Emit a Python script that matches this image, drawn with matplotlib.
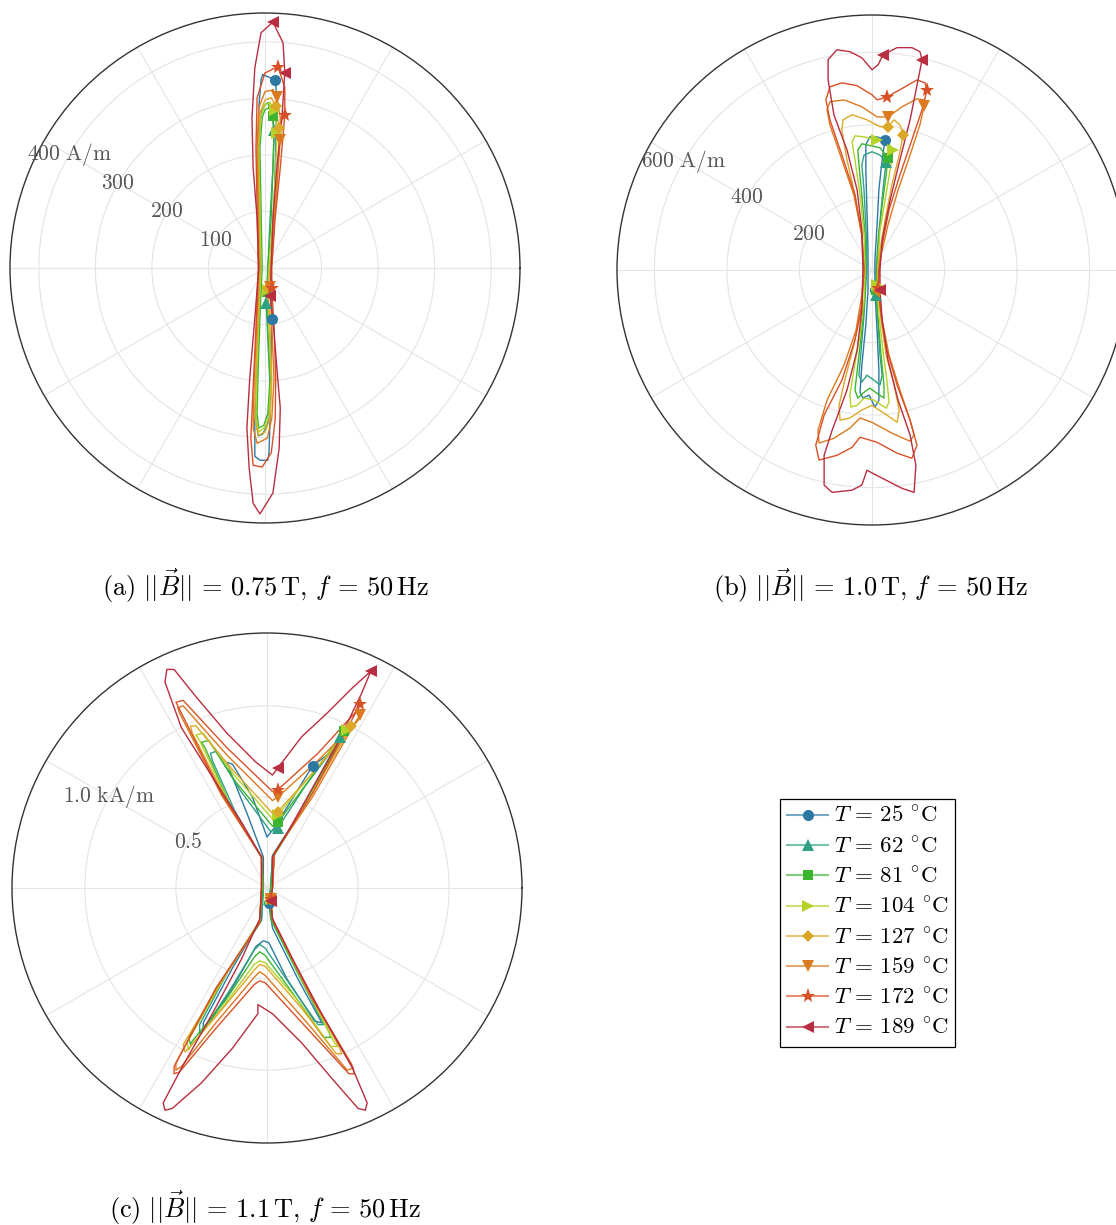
import numpy as np
import matplotlib
matplotlib.use("Agg")
import matplotlib.pyplot as plt
from matplotlib.lines import Line2D
from matplotlib.colors import to_rgb

plt.rcParams["mathtext.fontset"] = "cm"
plt.rcParams["font.family"] = ["DejaVu Serif"]

TEMPS = [25, 62, 81, 104, 127, 159, 172, 189]
COLORS = ["#2c78a3", "#30a082", "#3cb432", "#b4d228",
          "#dca828", "#dc7820", "#d85028", "#b82d40"]
MARKERS = ["o", "^", "s", ">", "D", "v", "*", "<"]

# ---- (a) |B| = 0.75 T : H loci (Hx, Hy) in A/m ----
A_25 = [(-4, 342), (18, 333), (21, 301), (19, 212), (16, 106), (11, 0), (12, -90), (11, -177), (9, -266),
        (7, -327), (5, -340), (-9, -340), (-18, -333), (-18, -266), (-14, -177), (-11, -89), (-9, 0),
        (-12, 80), (-12, 177), (-11, 283), (-7, 333), (-4, 342)]
A_62 = [(5, 292), (12, 274), (16, 244), (14, 177), (9, 89), (5, 0), (2, -62), (5, -124), (9, -212), (5, -274),
        (-4, -294), (-12, -297), (-16, -266), (-14, -177), (-11, -89), (-7, 0), (-9, 106), (-11, 212),
        (-7, 274), (0, 289), (5, 292)]
A_81 = [(7, 283), (14, 269), (16, 230), (14, 177), (11, 89), (5, 0), (4, -42), (5, -106), (9, -195), (5, -257),
        (-2, -278), (-11, -283), (-14, -257), (-12, -177), (-9, -89), (-5, 0), (-7, 106), (-9, 212),
        (-5, 266), (0, 280), (7, 283)]
A_104 = [(9, 292), (18, 280), (21, 239), (19, 177), (14, 89), (7, 0), (5, -39), (7, -106), (11, -195), (7, -262),
         (-2, -283), (-11, -290), (-16, -266), (-14, -177), (-11, -89), (-7, 0), (-9, 106), (-11, 212),
         (-7, 269), (0, 289), (9, 292)]
A_127 = [(11, 301), (19, 287), (25, 248), (23, 177), (16, 89), (9, 0), (5, -35), (9, -106), (12, -195),
         (9, -266), (0, -290), (-12, -296), (-18, -266), (-16, -177), (-12, -89), (-9, 0), (-11, 106),
         (-12, 212), (-9, 274), (0, 297), (11, 301)]
A_159 = [(14, 315), (21, 303), (27, 266), (27, 227), (21, 142), (14, 53), (9, -34), (12, -106), (16, -195),
         (12, -266), (4, -301), (-14, -310), (-21, -283), (-19, -195), (-14, -89), (-11, 0), (-12, 106),
         (-14, 212), (-11, 283), (0, 312), (14, 315)]
A_172 = [(23, 356), (35, 319), (35, 271), (27, 177), (18, 89), (12, 0), (12, -35), (16, -106), (19, -195),
         (18, -269), (11, -327), (-5, -352), (-21, -349), (-25, -301), (-21, -212), (-16, -106), (-12, 0),
         (-14, 106), (-16, 212), (-14, 301), (0, 345), (23, 356)]
A_189 = [(14, 435), (32, 398), (35, 345), (30, 266), (21, 177), (14, 89), (11, 0), (9, -50), (14, -89),
         (21, -177), (27, -248), (25, -319), (14, -398), (-9, -435), (-21, -416), (-28, -354), (-32, -283),
         (-27, -195), (-18, -89), (-11, 0), (-14, 89), (-21, 177), (-23, 266), (-18, 354), (-7, 416), (14, 435)]
A_MARKS = [[1, 6], [2, 6], [1, 6], [1, 2, 6], [1, 2, 6], [1, 3, 6], [0, 2, 6], [0, 2, 7]]

# ---- (b) |B| = 1.0 T : H loci in A/m ----
B_25 = [(36, 359), (28, 304), (19, 221), (14, 124), (8, 28), (8, -55), (14, -166), (19, -276), (19, -359),
        (8, -378), (-8, -345), (-25, -353), (-33, -337), (-28, -262), (-17, -152), (-11, -55), (-11, 55),
        (-14, 166), (-17, 276), (-17, 345), (-6, 367), (14, 367), (36, 359)]
B_62 = [(39, 298), (33, 248), (25, 166), (17, 83), (11, 0), (11, -69), (17, -152), (22, -235), (28, -290),
        (22, -317), (6, -304), (-14, -290), (-28, -309), (-36, -290), (-30, -221), (-22, -124), (-17, -41),
        (-14, 28), (-17, 124), (-22, 221), (-28, 290), (-22, 317), (0, 326), (22, 317), (39, 298)]
B_81 = [(44, 309), (39, 262), (28, 179), (19, 97), (14, 14), (11, -55), (17, -138), (25, -235), (33, -317),
        (33, -353), (17, -342), (-6, -326), (-22, -337), (-39, -353), (-47, -331), (-39, -262), (-28, -166),
        (-19, -69), (-17, 0), (-19, 97), (-28, 207), (-36, 290), (-39, 331), (-28, 348), (0, 342), (22, 337),
        (44, 309)]
B_104 = [(58, 331), (50, 276), (36, 193), (22, 110), (17, 28), (14, -41), (19, -124), (30, -221), (41, -304),
         (47, -364), (39, -381), (6, -359), (-22, -353), (-41, -373), (-58, -378), (-61, -345), (-50, -276),
         (-33, -179), (-22, -83), (-19, 0), (-22, 97), (-33, 207), (-47, 304), (-55, 353), (-47, 370),
         (-22, 367), (14, 359), (36, 364), (58, 331)]
B_127 = [(86, 373), (75, 317), (55, 235), (36, 138), (22, 55), (17, 0), (17, -55), (25, -138), (39, -235),
         (61, -317), (75, -386), (69, -420), (41, -400), (0, -373), (-28, -386), (-61, -408), (-88, -414),
         (-91, -373), (-75, -304), (-50, -207), (-30, -110), (-22, 0), (-28, 97), (-47, 207), (-69, 304),
         (-83, 386), (-80, 414), (-55, 428), (-14, 414), (22, 395), (44, 395), (61, 414), (77, 400), (86, 373)]
B_159 = [(144, 453), (132, 400), (105, 317), (72, 221), (44, 124), (25, 41), (19, -14), (19, -61), (28, -138),
         (47, -235), (77, -331), (105, -414), (116, -455), (105, -472), (55, -450), (0, -420), (-33, -408),
         (-61, -436), (-105, -464), (-146, -477), (-149, -442), (-124, -359), (-77, -262), (-44, -166),
         (-28, -69), (-22, 0), (-28, 97), (-50, 207), (-83, 304), (-116, 400), (-124, 442), (-116, 464),
         (-77, 469), (-28, 450), (14, 422), (44, 422), (83, 450), (124, 472), (144, 469), (144, 453)]
B_172 = [(152, 497), (138, 442), (110, 359), (77, 262), (47, 166), (28, 69), (19, 0), (17, -50), (25, -124),
         (41, -221), (69, -317), (105, -414), (124, -483), (110, -519), (69, -505), (14, -475), (-33, -461),
         (-55, -489), (-97, -511), (-146, -524), (-155, -483), (-132, -400), (-83, -304), (-47, -193),
         (-28, -97), (-22, 0), (-28, 97), (-47, 207), (-83, 317), (-116, 414), (-127, 469), (-116, 505),
         (-83, 516), (-41, 508), (0, 483), (14, 469), (41, 477), (77, 497), (124, 524), (146, 516), (152, 497)]
B_189 = [(138, 580), (127, 524), (105, 414), (77, 304), (50, 193), (28, 83), (22, 0), (22, -55), (28, -138),
         (44, -248), (72, -359), (105, -455), (121, -538), (116, -613), (83, -602), (28, -574), (-14, -552),
         (-28, -593), (-55, -607), (-110, -613), (-132, -593), (-132, -511), (-110, -442), (-69, -331),
         (-41, -221), (-28, -110), (-25, 0), (-28, 110), (-41, 221), (-69, 331), (-105, 428), (-121, 524),
         (-121, 580), (-97, 607), (-61, 602), (-28, 585), (0, 552), (17, 566), (30, 593), (69, 613),
         (110, 613), (132, 602), (138, 580)]
B_MARKS = [[0, 5], [0, 5], [0, 5], [0, 5, 26], [0, 6, 30], [0, 7, 35], [0, 7, 36], [0, 7, 38]]

# ---- (c) |B| = 1.1 T : H loci in kA/m ----
C_25 = [(0.39, 0.79), (0.36, 0.73), (0.17, 0.39), (0.03, 0.17), (0.02, 0.0), (0.01, -0.08), (0.03, -0.22),
        (0.17, -0.50), (0.29, -0.72), (0.30, -0.74), (0.26, -0.73), (0.11, -0.50), (0.01, -0.30),
        (-0.02, -0.29), (-0.06, -0.32), (-0.19, -0.55), (-0.33, -0.76), (-0.35, -0.78), (-0.35, -0.74),
        (-0.19, -0.44), (-0.03, -0.17), (-0.02, 0.0), (-0.02, 0.17), (-0.11, 0.41), (-0.21, 0.66),
        (-0.22, 0.69), (-0.19, 0.68), (-0.08, 0.50), (0.0, 0.28), (0.04, 0.33), (0.25, 0.67), (0.37, 0.76),
        (0.39, 0.79)]
C_62 = [(0.40, 0.83), (0.37, 0.77), (0.19, 0.43), (0.03, 0.18), (0.02, 0.0), (0.01, -0.06), (0.02, -0.17),
        (0.18, -0.48), (0.30, -0.73), (0.31, -0.75), (0.28, -0.75), (0.14, -0.55), (-0.01, -0.33),
        (-0.04, -0.31), (-0.07, -0.34), (-0.21, -0.57), (-0.35, -0.78), (-0.37, -0.80), (-0.37, -0.75),
        (-0.21, -0.45), (-0.03, -0.18), (-0.02, 0.0), (-0.03, 0.17), (-0.18, 0.43), (-0.30, 0.70),
        (-0.31, 0.74), (-0.28, 0.75), (-0.15, 0.54), (0.02, 0.31), (0.06, 0.33), (0.21, 0.56), (0.39, 0.80),
        (0.40, 0.83)]
C_81 = [(0.42, 0.86), (0.39, 0.80), (0.20, 0.44), (0.04, 0.18), (0.02, 0.0), (0.02, -0.06), (0.02, -0.17),
        (0.19, -0.51), (0.34, -0.79), (0.35, -0.82), (0.31, -0.82), (0.15, -0.59), (-0.01, -0.37),
        (-0.04, -0.35), (-0.07, -0.38), (-0.23, -0.62), (-0.41, -0.84), (-0.42, -0.86), (-0.43, -0.82),
        (-0.23, -0.48), (-0.04, -0.18), (-0.02, 0.0), (-0.03, 0.17), (-0.20, 0.45), (-0.34, 0.77),
        (-0.36, 0.80), (-0.32, 0.81), (-0.17, 0.58), (0.03, 0.34), (0.06, 0.36), (0.23, 0.59), (0.40, 0.83),
        (0.42, 0.86)]
C_104 = [(0.44, 0.87), (0.41, 0.81), (0.21, 0.46), (0.04, 0.18), (0.03, 0.0), (0.02, -0.06), (0.03, -0.17),
         (0.21, -0.54), (0.37, -0.85), (0.39, -0.87), (0.35, -0.87), (0.18, -0.63), (-0.01, -0.41),
         (-0.04, -0.40), (-0.07, -0.42), (-0.24, -0.65), (-0.42, -0.87), (-0.43, -0.89), (-0.44, -0.85),
         (-0.24, -0.50), (-0.04, -0.18), (-0.03, 0.0), (-0.03, 0.17), (-0.21, 0.47), (-0.37, 0.81),
         (-0.39, 0.84), (-0.35, 0.85), (-0.18, 0.62), (0.03, 0.38), (0.06, 0.40), (0.24, 0.62), (0.42, 0.84),
         (0.44, 0.87)]
C_127 = [(0.46, 0.89), (0.43, 0.83), (0.22, 0.47), (0.04, 0.19), (0.03, 0.0), (0.02, -0.06), (0.03, -0.17),
         (0.22, -0.55), (0.40, -0.88), (0.41, -0.91), (0.38, -0.91), (0.19, -0.66), (-0.01, -0.43),
         (-0.04, -0.42), (-0.07, -0.45), (-0.25, -0.67), (-0.43, -0.88), (-0.45, -0.90), (-0.46, -0.86),
         (-0.25, -0.51), (-0.04, -0.19), (-0.03, 0.0), (-0.03, 0.17), (-0.22, 0.48), (-0.41, 0.85),
         (-0.42, 0.89), (-0.39, 0.89), (-0.19, 0.65), (0.03, 0.41), (0.06, 0.42), (0.25, 0.63), (0.44, 0.85),
         (0.46, 0.89)]
C_159 = [(0.51, 0.95), (0.48, 0.90), (0.25, 0.50), (0.04, 0.19), (0.03, 0.0), (0.02, -0.06), (0.03, -0.17),
         (0.24, -0.59), (0.46, -0.96), (0.47, -0.99), (0.44, -1.00), (0.22, -0.74), (-0.01, -0.48),
         (-0.04, -0.46), (-0.07, -0.49), (-0.28, -0.74), (-0.47, -0.98), (-0.50, -1.00), (-0.50, -0.96),
         (-0.28, -0.55), (-0.04, -0.19), (-0.03, 0.0), (-0.03, 0.17), (-0.25, 0.51), (-0.48, 0.96),
         (-0.49, 0.99), (-0.46, 1.00), (-0.22, 0.73), (0.03, 0.48), (0.06, 0.50), (0.28, 0.70), (0.50, 0.92),
         (0.51, 0.95)]
C_172 = [(0.51, 1.01), (0.48, 0.95), (0.25, 0.52), (0.04, 0.19), (0.03, 0.0), (0.02, -0.06), (0.03, -0.17),
         (0.25, -0.61), (0.47, -0.98), (0.48, -1.02), (0.45, -1.02), (0.22, -0.77), (-0.01, -0.52),
         (-0.04, -0.51), (-0.07, -0.53), (-0.28, -0.77), (-0.48, -1.01), (-0.51, -1.02), (-0.51, -0.98),
         (-0.28, -0.55), (-0.04, -0.19), (-0.03, 0.0), (-0.03, 0.17), (-0.25, 0.52), (-0.48, 0.98),
         (-0.50, 1.02), (-0.46, 1.03), (-0.22, 0.77), (0.03, 0.53), (0.06, 0.54), (0.28, 0.74), (0.50, 0.98),
         (0.51, 1.01)]
C_189 = [(0.57, 1.19), (0.52, 1.07), (0.39, 0.80), (0.25, 0.55), (0.11, 0.30), (0.03, 0.17), (0.03, 0.0),
         (0.02, -0.07), (0.03, -0.17), (0.14, -0.39), (0.30, -0.69), (0.47, -0.99), (0.55, -1.18),
         (0.54, -1.22), (0.50, -1.21), (0.36, -1.05), (0.19, -0.85), (0.03, -0.69), (-0.05, -0.64),
         (-0.05, -0.69), (-0.19, -0.88), (-0.36, -1.07), (-0.52, -1.21), (-0.56, -1.22), (-0.57, -1.18),
         (-0.47, -0.99), (-0.30, -0.69), (-0.14, -0.39), (-0.04, -0.17), (-0.03, 0.0), (-0.03, 0.17),
         (-0.14, 0.36), (-0.30, 0.61), (-0.47, 0.88), (-0.56, 1.13), (-0.55, 1.20), (-0.51, 1.20),
         (-0.39, 1.05), (-0.22, 0.85), (-0.06, 0.69), (0.03, 0.62), (0.06, 0.66), (0.19, 0.83), (0.33, 0.96),
         (0.47, 1.10), (0.57, 1.19)]
C_MARKS = [[5, 30], [0, 5, 29], [0, 5, 29], [0, 5, 29], [0, 5, 29], [0, 5, 29], [0, 5, 29], [0, 7, 41]]

A_RTICKS = [100, 200, 300, 400]
A_RLABELS = ["$100$", "$200$", "$300$", r"$400\ \mathrm{A/m}$"]
B_RTICKS = [200, 400, 600]
B_RLABELS = ["$200$", "$400$", r"$600\ \mathrm{A/m}$"]
C_RTICKS = [0.5, 1.0]
C_RLABELS = ["$0.5$", r"$1.0\ \mathrm{kA/m}$"]

CAPTIONS = [r"$\mathrm{(a)}\ ||\vec{B}||\,=\,0.75\,\mathrm{T},\,f\,=\,50\,\mathrm{Hz}$",
            r"$\mathrm{(b)}\ ||\vec{B}||\,=\,1.0\,\mathrm{T},\,f\,=\,50\,\mathrm{Hz}$",
            r"$\mathrm{(c)}\ ||\vec{B}||\,=\,1.1\,\mathrm{T},\,f\,=\,50\,\mathrm{Hz}$"]


def marker_size(m):
    return {"*": 11, "D": 6.5, "s": 7}.get(m, 8)


def draw_panel(fig, rect, loops, marks, rmax, rticks, rlabels):
    ax = fig.add_axes(rect, projection="polar")
    ax.set_rlim(0, rmax)
    ax.set_xticks(np.deg2rad(np.arange(0, 360, 30)))
    ax.set_xticklabels([])
    ax.set_yticks(rticks)
    ax.set_yticklabels([])
    ax.grid(True, color="#e4e4e4", linewidth=0.8)
    ax.spines["polar"].set_color("#333333")
    ax.spines["polar"].set_linewidth(1.0)
    for loop, idx, c, m in zip(loops, marks, COLORS, MARKERS):
        xy = np.array(loop, dtype=float)
        th = np.arctan2(xy[:, 1], xy[:, 0])
        r = np.hypot(xy[:, 0], xy[:, 1])
        ax.plot(th, r, color=c, linewidth=1.0, zorder=3)
        ax.plot(th[idx], r[idx], linestyle="none", marker=m, color=c,
                markersize=marker_size(m), markeredgewidth=0, zorder=4)
    for rv, lab in zip(rticks, rlabels):
        ax.text(np.deg2rad(150), rv, lab, ha="center", va="center",
                fontsize=15.5, color="#555555", zorder=5)
    return ax


fig = plt.figure(figsize=(11.16, 12.25), dpi=100)

draw_panel(fig, [10 / 1116, 1 - 523 / 1225, 510 / 1116, 510 / 1225],
           [A_25, A_62, A_81, A_104, A_127, A_159, A_172, A_189], A_MARKS, 451, A_RTICKS, A_RLABELS)
draw_panel(fig, [617 / 1116, 1 - 525 / 1225, 510 / 1116, 510 / 1225],
           [B_25, B_62, B_81, B_104, B_127, B_159, B_172, B_189], B_MARKS, 703, B_RTICKS, B_RLABELS)
draw_panel(fig, [12 / 1116, 1 - 1143 / 1225, 510 / 1116, 510 / 1225],
           [C_25, C_62, C_81, C_104, C_127, C_159, C_172, C_189], C_MARKS, 1.40, C_RTICKS, C_RLABELS)

fig.text(265 / 1116, 1 - 586 / 1225, CAPTIONS[0], ha="center", va="center", fontsize=19)
fig.text(870 / 1116, 1 - 586 / 1225, CAPTIONS[1], ha="center", va="center", fontsize=19)
fig.text(265 / 1116, 1 - 1208 / 1225, CAPTIONS[2], ha="center", va="center", fontsize=19)

handles = []
for t, c, m in zip(TEMPS, COLORS, MARKERS):
    light = tuple(0.65 * v + 0.35 for v in to_rgb(c))
    handles.append(Line2D([], [], color=light, linewidth=1.5, marker=m,
                          markerfacecolor=c, markeredgewidth=0,
                          markersize=marker_size(m)))
labels = [r"$T\,=\,%d\ ^{\circ}\mathrm{C}$" % t for t in TEMPS]
leg = fig.legend(handles, labels, loc="upper left",
                 bbox_to_anchor=(780 / 1116, 1 - 799 / 1225),
                 fontsize=16.5, frameon=True, fancybox=False, framealpha=1,
                 edgecolor="black", handlelength=1.8, handletextpad=0.25,
                 labelspacing=0.36, borderpad=0.3, borderaxespad=0)
leg.get_frame().set_linewidth(0.9)

fig.savefig("out.png", dpi=100)
